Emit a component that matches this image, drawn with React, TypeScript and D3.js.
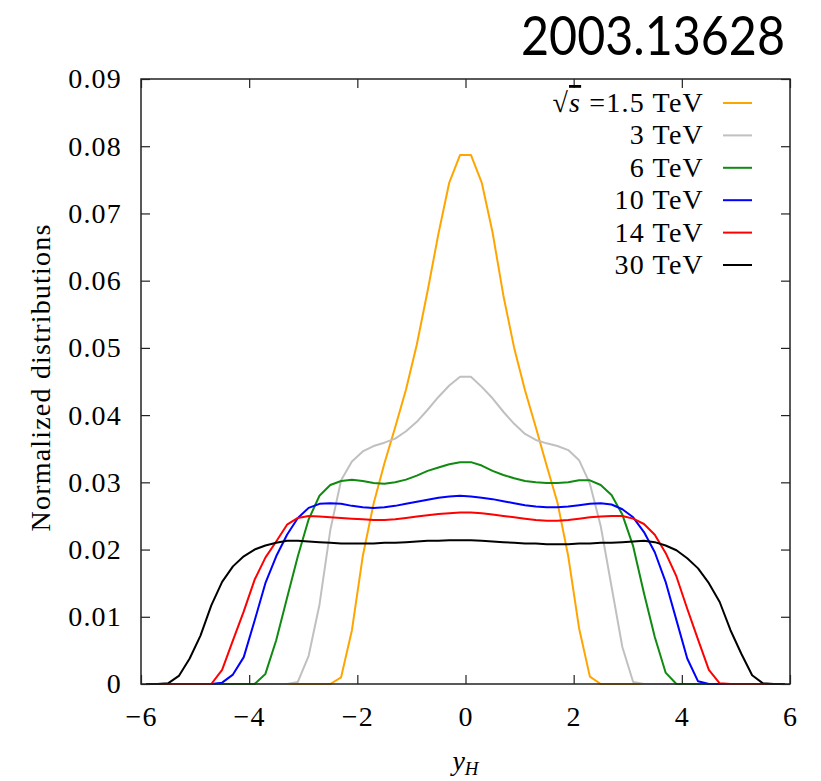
import React, { useEffect, useRef } from 'react';
import * as d3 from 'd3';

const svgWidth = 821;
const svgHeight = 781;
const margin = { left: 141, right: 31, top: 79, bottom: 97 };
const width = svgWidth - margin.left - margin.right;
const height = svgHeight - margin.top - margin.bottom;

// bin centres of y_H
const yH = [
  -5.9, -5.7, -5.5, -5.3, -5.1, -4.9, -4.7, -4.5, -4.3, -4.1,
  -3.9, -3.7, -3.5, -3.3, -3.1, -2.9, -2.7, -2.5, -2.3, -2.1,
  -1.9, -1.7, -1.5, -1.3, -1.1, -0.9, -0.7, -0.5, -0.3, -0.1,
  0.1, 0.3, 0.5, 0.7, 0.9, 1.1, 1.3, 1.5, 1.7, 1.9,
  2.1, 2.3, 2.5, 2.7, 2.9, 3.1, 3.3, 3.5, 3.7, 3.9,
  4.1, 4.3, 4.5, 4.7, 4.9, 5.1, 5.3, 5.5, 5.7, 5.9,
];

const tev1p5 = [
  0, 0, 0, 0, 0, 0, 0, 0, 0, 0,
  0, 0, 0, 0, 0, 0, 0, 0, 0.001, 0.008,
  0.019, 0.0268, 0.0328, 0.0382, 0.0438, 0.0505, 0.0585, 0.067, 0.0746, 0.0787,
  0.0787, 0.0746, 0.0672, 0.0578, 0.05, 0.0437, 0.0382, 0.0325, 0.027, 0.019,
  0.0083, 0.0011, 0, 0, 0, 0, 0, 0, 0, 0,
  0, 0, 0, 0, 0, 0, 0, 0, 0, 0,
];

const tev3 = [
  0, 0, 0, 0, 0, 0, 0, 0, 0, 0,
  0, 0, 0, 0, 0.0003, 0.0042, 0.0118, 0.0229, 0.0303, 0.0331,
  0.0346, 0.0354, 0.0359, 0.0365, 0.0376, 0.039, 0.0408, 0.0427, 0.0444, 0.0457,
  0.0457, 0.0442, 0.0425, 0.0405, 0.0387, 0.0372, 0.0363, 0.0358, 0.0354, 0.0348,
  0.0333, 0.0298, 0.0235, 0.0145, 0.0055, 0.0003, 0, 0, 0, 0,
  0, 0, 0, 0, 0, 0, 0, 0, 0, 0,
];

const tev6 = [
  0, 0, 0, 0, 0, 0, 0, 0, 0, 0,
  0, 0.0015, 0.0065, 0.0128, 0.019, 0.0245, 0.028, 0.0296, 0.0302, 0.0304,
  0.0302, 0.0299, 0.0298, 0.03, 0.0304, 0.031, 0.0317, 0.0322, 0.0327, 0.033,
  0.033, 0.0325, 0.0317, 0.0311, 0.0306, 0.0302, 0.03, 0.0299, 0.0299, 0.03,
  0.0303, 0.0303, 0.0296, 0.0281, 0.0252, 0.0205, 0.0135, 0.007, 0.0017, 0,
  0, 0, 0, 0, 0, 0, 0, 0, 0, 0,
];

const tev10 = [
  0, 0, 0, 0, 0, 0, 0, 0.0002, 0.0014, 0.004,
  0.0094, 0.015, 0.019, 0.0222, 0.0247, 0.0262, 0.0268, 0.0269, 0.0268, 0.0265,
  0.0263, 0.0262, 0.0263, 0.0265, 0.0268, 0.0271, 0.0274, 0.0277, 0.0279, 0.028,
  0.0279, 0.0277, 0.0275, 0.0272, 0.0269, 0.0266, 0.0264, 0.0263, 0.0263, 0.0264,
  0.0266, 0.0268, 0.0269, 0.0267, 0.026, 0.0248, 0.0226, 0.0196, 0.0152, 0.0095,
  0.0038, 0.0004, 0, 0, 0, 0, 0, 0, 0, 0,
];

const tev14 = [
  0, 0, 0, 0, 0, 0, 0, 0.0021, 0.0065, 0.0108,
  0.0155, 0.0188, 0.0212, 0.0237, 0.0247, 0.025, 0.0249, 0.0248, 0.0247, 0.0246,
  0.0245, 0.0244, 0.0244, 0.0245, 0.0247, 0.0249, 0.0251, 0.0253, 0.0254, 0.0255,
  0.0255, 0.0254, 0.0252, 0.025, 0.0248, 0.0246, 0.0244, 0.0243, 0.0243, 0.0244,
  0.0246, 0.0248, 0.0249, 0.025, 0.025, 0.0246, 0.0238, 0.0222, 0.0195, 0.016,
  0.0112, 0.0066, 0.0021, 0.0001, 0, 0, 0, 0, 0, 0,
];

const tev30 = [
  0, 0, 0.0001, 0.0012, 0.0038, 0.0072, 0.0117, 0.0152, 0.0175, 0.019,
  0.02, 0.0206, 0.021, 0.0213, 0.0213, 0.0212, 0.0211, 0.021, 0.0209, 0.0209,
  0.0209, 0.0209, 0.021, 0.021, 0.0211, 0.0212, 0.0213, 0.0213, 0.0214, 0.0214,
  0.0214, 0.0213, 0.0212, 0.0211, 0.021, 0.0209, 0.0209, 0.0208, 0.0208, 0.0208,
  0.0209, 0.0209, 0.021, 0.021, 0.0211, 0.0212, 0.0213, 0.0211, 0.0206, 0.0199,
  0.0187, 0.0172, 0.015, 0.0122, 0.008, 0.0045, 0.0013, 0.0001, 0, 0,
];

const seriesLabels = ['=1.5 TeV', '3 TeV', '6 TeV', '10 TeV', '14 TeV', '30 TeV'];
const seriesValues = [tev1p5, tev3, tev6, tev10, tev14, tev30];
const seriesColors = ['#ffa500', '#c0c0c0', '#118a11', '#0000ff', '#ff0000', '#000000'];

const xTicks = [-6, -4, -2, 0, 2, 4, 6];
const yTicks = [0, 0.01, 0.02, 0.03, 0.04, 0.05, 0.06, 0.07, 0.08, 0.09];

const serif = "'Liberation Serif', 'Times New Roman', Tinos, 'DejaVu Serif', serif";
const fontSize = 28;
const spacing = '1.2px';

const translate = (x: number, y: number) => 'translate(' + x + ',' + y + ')';

const App = () => {
  const ref = useRef<SVGSVGElement>(null);

  useEffect(() => {
    const svg = d3.select(ref.current);
    svg.selectAll('*').remove();

    const xScale = d3.scaleLinear().domain([-6, 6]).range([0, width]);
    const yScale = d3.scaleLinear().domain([0, 0.09]).range([height, 0]);

    const chart = svg.append('g').attr('transform', translate(margin.left, margin.top));

    // curves, drawn in legend order
    const line = d3.line<number>()
      .x((d, i) => xScale(yH[i]))
      .y(d => yScale(d));

    seriesValues.forEach((vals, k) => {
      chart.append('path')
        .datum(vals)
        .attr('d', line)
        .attr('fill', 'none')
        .attr('stroke', seriesColors[k])
        .attr('stroke-width', 2)
        .attr('stroke-linejoin', 'round');
    });

    // frame
    chart.append('rect')
      .attr('width', width)
      .attr('height', height)
      .attr('fill', 'none')
      .attr('stroke', '#222')
      .attr('stroke-width', 1.5);

    const tickLen = 9;
    const axisStyle = (g: any) => {
      g.select('.domain').remove();
      g.selectAll('line').attr('stroke', '#222').attr('stroke-width', 1.2);
      g.selectAll('text')
        .style('font-family', serif)
        .style('font-size', fontSize + 'px')
        .style('letter-spacing', spacing)
        .attr('fill', '#000');
    };

    chart.append('g')
      .attr('transform', translate(0, height))
      .call(d3.axisBottom(xScale).tickValues(xTicks).tickSize(-tickLen).tickPadding(tickLen + 13)
        .tickFormat(d => (+d < 0 ? '\u2212' + Math.abs(+d) : String(d))))
      .call(axisStyle);

    chart.append('g')
      .call(d3.axisTop(xScale).tickValues(xTicks).tickSize(-tickLen).tickFormat(() => ''))
      .call(axisStyle);

    chart.append('g')
      .call(d3.axisLeft(yScale).tickValues(yTicks).tickSize(-tickLen).tickPadding(tickLen + 10)
        .tickFormat(d => (+d === 0 ? '0' : d3.format('.2f')(+d))))
      .call(axisStyle);

    chart.append('g')
      .attr('transform', translate(width, 0))
      .call(d3.axisRight(yScale).tickValues(yTicks).tickSize(-tickLen).tickFormat(() => ''))
      .call(axisStyle);

    // legend
    const legend = svg.append('g').attr('transform', translate(0, 103));
    seriesLabels.forEach((lab, k) => {
      const row = legend.append('g').attr('transform', translate(0, k * 32.4));
      row.append('line')
        .attr('x1', 723).attr('x2', 752)
        .attr('y1', 0).attr('y2', 0)
        .attr('stroke', seriesColors[k])
        .attr('stroke-width', 2);
      const txt = row.append('text')
        .attr('x', 704)
        .attr('y', 9)
        .attr('text-anchor', 'end')
        .style('font-family', serif)
        .style('font-size', fontSize + 'px')
        .style('letter-spacing', spacing);
      if (k === 0) {
        txt.append('tspan').text('\u221A');
        txt.append('tspan')
          .attr('font-style', 'italic')
          .attr('text-decoration', 'overline')
          .text('s');
        txt.append('tspan').text(' ' + lab);
      } else {
        txt.text(lab);
      }
    });

    // axis titles
    svg.append('text')
      .attr('transform', translate(50, margin.top + height / 2 - 4) + ' rotate(-90)')
      .attr('text-anchor', 'middle')
      .style('font-family', serif)
      .style('font-size', fontSize + 'px')
      .style('letter-spacing', spacing)
      .text('Normalized distributions');

    const xl = svg.append('text')
      .attr('x', margin.left + xScale(0))
      .attr('y', 770)
      .attr('text-anchor', 'middle')
      .style('font-family', serif)
      .style('font-size', fontSize + 'px')
      .attr('font-style', 'italic');
    xl.append('tspan').text('y');
    xl.append('tspan').style('font-size', '19px').attr('dy', 5).text('H');

    // arXiv id
    svg.append('text')
      .attr('x', 785)
      .attr('y', 55)
      .attr('text-anchor', 'end')
      .style('font-family', "Lato, 'Noto Sans', sans-serif")
      .style('font-size', '55px')
      .attr('textLength', 264)
      .attr('lengthAdjust', 'spacingAndGlyphs')
      .text('2003.13628');
  }, []);

  return (
    <svg
      ref={ref}
      width={svgWidth}
      height={svgHeight}
      style={{ position: 'absolute', left: 0, top: 0, background: '#fff' }}
    />
  );
};

export default App;
